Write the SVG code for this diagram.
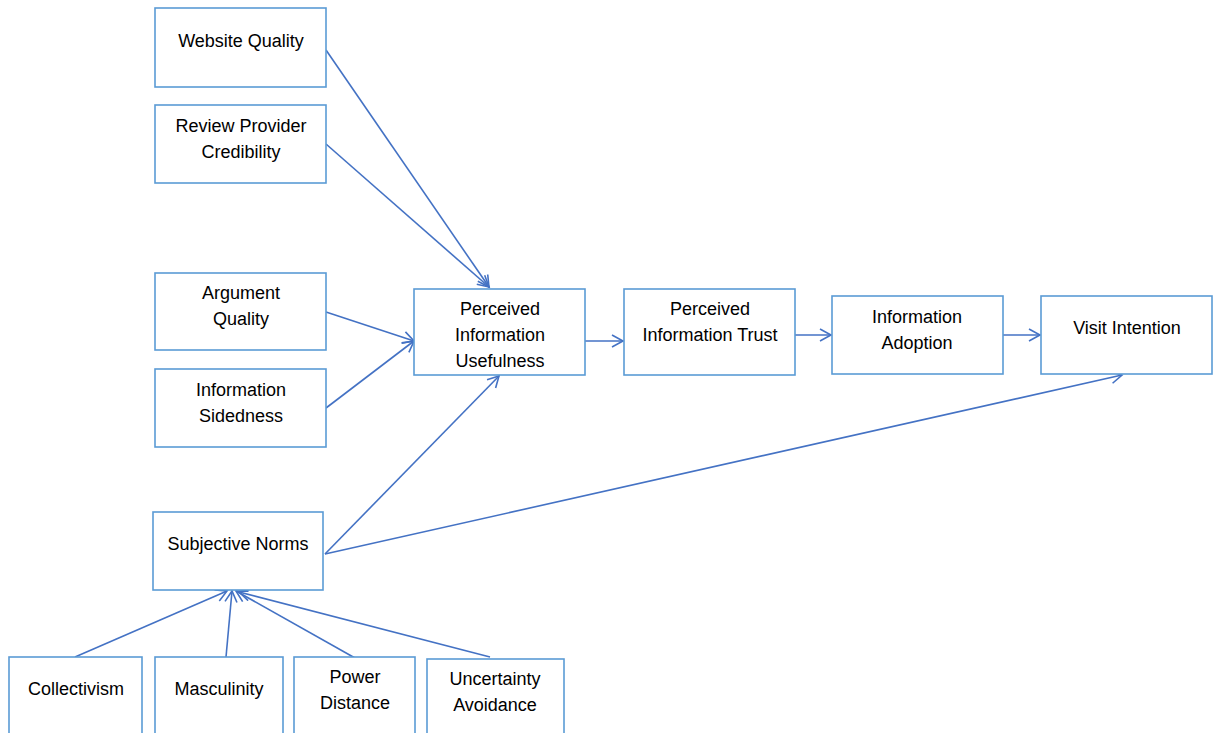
<svg xmlns="http://www.w3.org/2000/svg" width="1219" height="733" viewBox="0 0 1219 733">
<style>
.box{fill:#fff;stroke:#5B9BD5;stroke-width:1.6}
.lbl{font-family:"Liberation Sans","Noto Sans",sans-serif;font-size:18px;fill:#000;text-anchor:middle}
.edge{fill:none;stroke:#4472C4;stroke-width:1.6;marker-end:url(#arr)}
</style>
<defs>
<marker id="arr" markerUnits="userSpaceOnUse" markerWidth="14" markerHeight="14" viewBox="-12 -7 14 14" refX="0" refY="0" orient="auto">
<path d="M-11,-6 L0,0 L-11,6" fill="none" stroke="#4472C4" stroke-width="1.6"/>
</marker>
</defs>
<rect width="1219" height="733" fill="#fff"/>
<g id="connectors">
<line class="edge" x1="326" y1="50" x2="489" y2="287"/>
<line class="edge" x1="326" y1="144" x2="489" y2="287"/>
<line class="edge" x1="326" y1="312" x2="414" y2="341"/>
<line class="edge" x1="326" y1="408" x2="414" y2="341"/>
<line class="edge" x1="325" y1="554" x2="499" y2="376"/>
<line class="edge" x1="325" y1="554" x2="1122" y2="375"/>
<line class="edge" x1="585" y1="341" x2="623" y2="341"/>
<line class="edge" x1="795" y1="335" x2="831" y2="335"/>
<line class="edge" x1="1003" y1="335" x2="1040" y2="335"/>
<line class="edge" x1="75" y1="657" x2="227" y2="591"/>
<line class="edge" x1="226" y1="657" x2="232" y2="591"/>
<line class="edge" x1="355" y1="658" x2="236" y2="591"/>
<line class="edge" x1="490" y1="657" x2="239" y2="592"/>
</g>
<g id="website-quality"><rect class="box" x="155" y="8" width="171" height="79"/><text class="lbl" x="241" y="47">Website Quality</text></g>
<g id="review-provider-credibility"><rect class="box" x="155" y="105" width="171" height="78"/><text class="lbl" x="241" y="132">Review Provider</text><text class="lbl" x="241" y="158">Credibility</text></g>
<g id="argument-quality"><rect class="box" x="155" y="273" width="171" height="77"/><text class="lbl" x="241" y="299">Argument</text><text class="lbl" x="241" y="325">Quality</text></g>
<g id="information-sidedness"><rect class="box" x="155" y="369" width="171" height="78"/><text class="lbl" x="241" y="396">Information</text><text class="lbl" x="241" y="422">Sidedness</text></g>
<g id="perceived-information-usefulness"><rect class="box" x="414" y="289" width="171" height="86"/><text class="lbl" x="500" y="315">Perceived</text><text class="lbl" x="500" y="341">Information</text><text class="lbl" x="500" y="367">Usefulness</text></g>
<g id="perceived-information-trust"><rect class="box" x="624" y="289" width="171" height="86"/><text class="lbl" x="710" y="315">Perceived</text><text class="lbl" x="710" y="341">Information Trust</text></g>
<g id="information-adoption"><rect class="box" x="832" y="296" width="171" height="78"/><text class="lbl" x="917" y="323">Information</text><text class="lbl" x="917" y="349">Adoption</text></g>
<g id="visit-intention"><rect class="box" x="1041" y="296" width="171" height="78"/><text class="lbl" x="1127" y="334">Visit Intention</text></g>
<g id="subjective-norms"><rect class="box" x="153" y="512" width="170" height="78"/><text class="lbl" x="238" y="550">Subjective Norms</text></g>
<g id="collectivism"><rect class="box" x="9" y="657" width="133" height="90"/><text class="lbl" x="76" y="695">Collectivism</text></g>
<g id="masculinity"><rect class="box" x="155" y="657" width="128" height="90"/><text class="lbl" x="219" y="695">Masculinity</text></g>
<g id="power-distance"><rect class="box" x="294" y="657" width="121" height="90"/><text class="lbl" x="355" y="683">Power</text><text class="lbl" x="355" y="709">Distance</text></g>
<g id="uncertainty-avoidance"><rect class="box" x="427" y="659" width="137" height="90"/><text class="lbl" x="495" y="685">Uncertainty</text><text class="lbl" x="495" y="711">Avoidance</text></g>
</svg>
